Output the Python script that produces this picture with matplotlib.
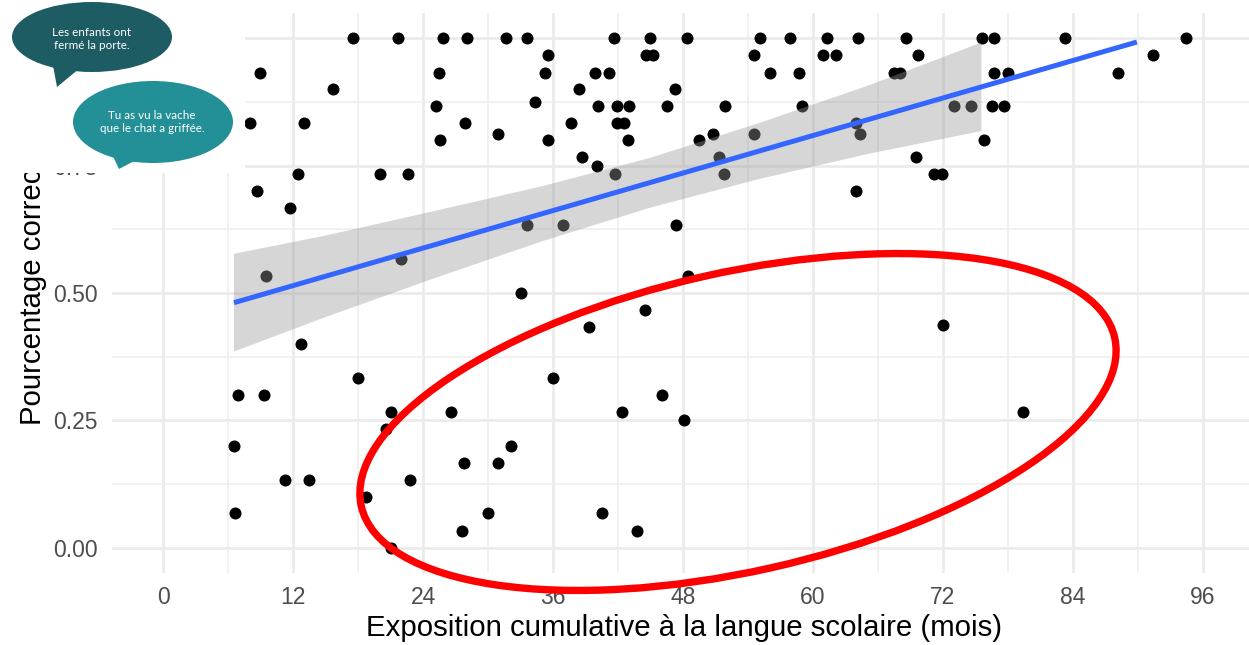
import matplotlib
matplotlib.use("Agg")
import matplotlib.pyplot as plt
from matplotlib.patches import Ellipse, Polygon

# points, grouped by score level (percentage correct) -> exposure in months
pct_levels = [1.0, 0.967, 0.933, 0.9, 0.875, 0.867, 0.833, 0.812, 0.8, 0.767,
              0.75, 0.733, 0.7, 0.667, 0.633, 0.567, 0.533, 0.5, 0.467, 0.433,
              0.437, 0.4, 0.333, 0.3, 0.267, 0.25, 0.233, 0.2, 0.167, 0.133,
              0.1, 0.067, 0.033, 0.0]
expo_by_level = [
    [17.55, 21.66, 25.8, 28.1, 31.7, 33.6, 41.6, 45.0, 48.4, 55.1, 57.9, 61.3,
     64.2, 68.6, 75.6, 76.7, 83.3, 94.4],
    [35.5, 44.6, 45.2, 54.6, 60.9, 62.1, 69.7, 91.4],
    [8.95, 25.5, 35.3, 39.9, 41.2, 56.0, 58.7, 67.5, 68.0, 76.7, 78.0, 88.2],
    [15.7, 38.4, 47.3],
    [34.3],
    [25.2, 40.2, 41.9, 43.0, 46.5, 51.9, 59.0, 73.0, 74.6, 76.5, 77.6],
    [8.0, 13.0, 27.9, 37.7, 41.9, 42.6, 64.0],
    [30.9, 50.8, 54.6, 64.3],
    [25.6, 35.5, 42.9, 49.5, 75.8],
    [38.7, 51.3, 69.5],
    [40.1],
    [12.5, 20.0, 22.6, 41.7, 51.8, 71.2, 71.9],
    [8.7, 64.0],
    [11.7],
    [33.6, 36.9, 47.4],
    [22.0],
    [9.5, 48.5],
    [33.0],
    [44.5],
    [39.3],
    [72.0],
    [12.7],
    [18.0, 36.0],
    [6.9, 9.35, 46.1],
    [21.0, 26.6, 42.4, 79.4],
    [48.1],
    [20.6],
    [6.55, 32.1],
    [27.8, 30.9],
    [11.3, 13.5, 22.8],
    [18.7],
    [6.65, 30.0, 40.5],
    [27.6, 43.8],
    [21.0],
]

# fitted line and its confidence band
line_x = [6.55, 89.9]
line_y = [0.481, 0.993]
band_x = [6.5, 15, 25, 35, 45, 55, 65, 75.5]
band_hi = [0.578, 0.614, 0.662, 0.711, 0.767, 0.835, 0.908, 0.993]
band_lo = [0.386, 0.454, 0.530, 0.603, 0.669, 0.725, 0.774, 0.819]

x_ticks = [0, 12, 24, 36, 48, 60, 72, 84, 96]
y_ticks = [0.0, 0.25, 0.5, 0.75, 1.0]
# the "1.00" label sits under the pasted bubble image, so it is left blank
y_ticklabels = ["0.00", "0.25", "0.50", "0.75", ""]

bubble_1 = "Les enfants ont\nfermé la porte."
bubble_2 = "Tu as vu la vache\nque le chat a griffée."

xs, ys = [], []
for lvl, row in zip(pct_levels, expo_by_level):
    xs += row
    ys += [lvl] * len(row)

W, H = 1249, 645
fig = plt.figure(figsize=(W / 100, H / 100), dpi=100)
plt.rcParams['font.family'] = ['Liberation Sans', 'DejaVu Sans']

ax = fig.add_axes([112 / W, 72 / H, 1137 / W, 560 / H])
ax.set_xlim(-4.71, 100.25)
ax.set_ylim(-0.05, 1.05)
ax.set_xticks(x_ticks)
ax.set_xticks([t + 6 for t in x_ticks[:-1]], minor=True)
ax.set_yticks(y_ticks)
ax.set_yticklabels(y_ticklabels)
ax.set_yticks([0.125, 0.375, 0.625, 0.875], minor=True)
ax.grid(which='major', color='#EBEBEB', lw=2.0)
ax.grid(which='minor', color='#EEEEEE', lw=1.1)
ax.set_axisbelow(True)
for s in ax.spines.values():
    s.set_visible(False)
ax.tick_params(which='both', length=0)
ax.tick_params(axis='x', labelsize=16.5, labelcolor='#4D4D4D', pad=9)
ax.tick_params(axis='y', labelsize=16.5, labelcolor='#4D4D4D', pad=10.5)

ax.scatter(xs, ys, s=75, c='black', linewidths=0, zorder=2)
ax.fill_between(band_x, band_lo, band_hi, color='#999999', alpha=0.4, lw=0, zorder=3)
ax.plot(line_x, line_y, color='#3366FF', lw=3.6, solid_capstyle='butt', zorder=4)

# red ellipse drawn in inches
ell = Ellipse((7.38, 2.23), 7.72, 2.99, angle=12.6, transform=fig.dpi_scale_trans,
              fill=False, ec='#FF0000', lw=5.3, zorder=5)
ax.add_patch(ell)
ell.set_clip_on(False)

ax.set_xlabel("Exposition cumulative à la langue scolaire (mois)", fontsize=21.2, va='center')
ax.xaxis.set_label_coords((684.5 - 112) / 1137, (573 - 628) / 560)
ax.set_ylabel("Pourcentage correct", fontsize=21.2, va='center')
ax.yaxis.set_label_coords((33 - 112) / 1137, 0.5)

# pasted image with the two speech bubbles (pixel coordinates)
ov = fig.add_axes([0, 1 - 173 / H, 245 / W, 173 / H])
ov.set_xlim(0, 245)
ov.set_ylim(173, 0)
ov.set_facecolor('white')
ov.set_xticks([])
ov.set_yticks([])
for s in ov.spines.values():
    s.set_visible(False)

c1, c2 = '#1c5c62', '#238f96'
ov.add_patch(Polygon([(52, 60), (80, 68), (57, 87)], fc=c1, ec='none'))
ov.add_patch(Ellipse((92, 37), 160, 70, fc=c1, ec='none'))
ov.text(92, 39, bubble_1, color='white', fontsize=8.4, ha='center', va='center',
        family=['Lato', 'DejaVu Sans'], linespacing=1.15)
ov.add_patch(Polygon([(110, 150), (140, 158), (119, 169)], fc=c2, ec='none'))
ov.add_patch(Ellipse((153, 122), 160, 82, fc=c2, ec='none'))
ov.text(152, 122, bubble_2, color='white', fontsize=8.4, ha='center', va='center',
        family=['Lato', 'DejaVu Sans'], linespacing=1.15)

fig.savefig("out.png", dpi=100)
